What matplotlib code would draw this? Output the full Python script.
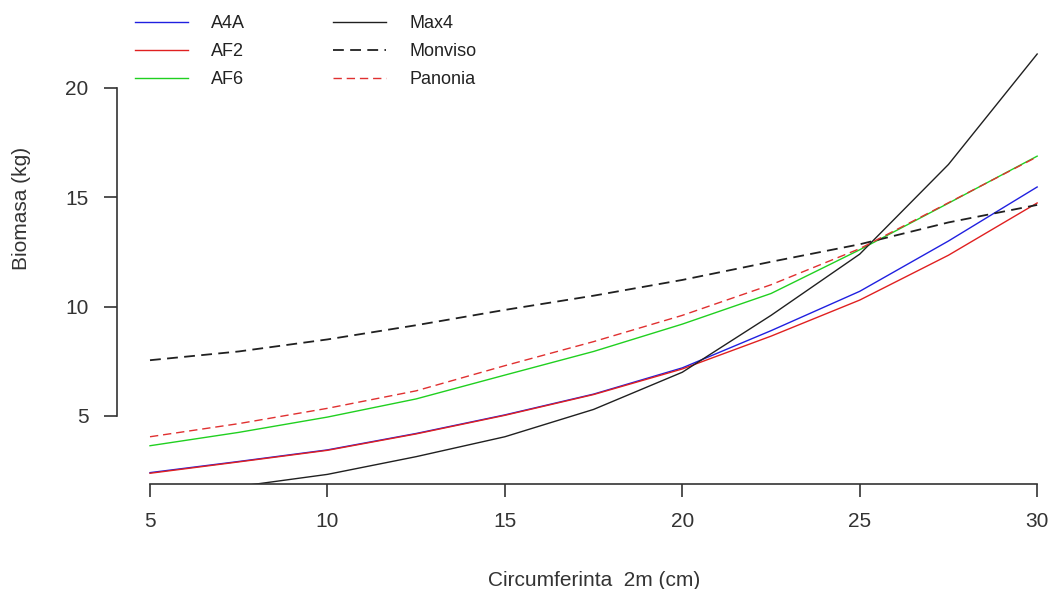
import matplotlib
matplotlib.use("Agg")
import matplotlib.pyplot as plt

# circumference at 2 m (cm)
circ = [5, 7.5, 10, 12.5, 15, 17.5, 20, 22.5, 25, 27.5, 30]

# biomass (kg) per clone
a4a = [2.41, 2.92, 3.45, 4.20, 5.05, 6.00, 7.20, 8.90, 10.70, 13.00, 15.47]
af2 = [2.38, 2.90, 3.43, 4.18, 5.03, 5.98, 7.15, 8.65, 10.30, 12.35, 14.74]
af6 = [3.64, 4.25, 4.95, 5.78, 6.87, 7.95, 9.20, 10.60, 12.60, 14.73, 16.88]
max4 = [1.35, 1.78, 2.33, 3.14, 4.05, 5.30, 7.00, 9.60, 12.40, 16.50, 21.55]
monviso = [7.55, 7.95, 8.50, 9.15, 9.85, 10.50, 11.22, 12.05, 12.85, 13.85, 14.65]
panonia = [4.05, 4.65, 5.35, 6.15, 7.30, 8.40, 9.60, 11.00, 12.65, 14.75, 16.85]

x_ticks = [5, 10, 15, 20, 25, 30]
y_ticks = [5, 10, 15, 20]

plt.rcParams["font.family"] = ["Liberation Sans", "DejaVu Sans"]

W, H = 1051, 589
fig = plt.figure(figsize=(W / 100, H / 100), dpi=100)
ax = fig.add_axes([117 / W, (H - 484) / H, (W - 117) / W, 484 / H])

dash = (0, (6, 3.5))
ax.plot(circ, a4a, color="#2020e0", lw=1.0, label="A4A")
ax.plot(circ, af2, color="#e02020", lw=1.0, label="AF2")
ax.plot(circ, af6, color="#20d020", lw=1.0, label="AF6")
ax.plot(circ, max4, color="#202020", lw=1.0, label="Max4")
ax.plot(circ, monviso, color="#202020", lw=1.3, ls=dash, label="Monviso")
ax.plot(circ, panonia, color="#e03030", lw=1.0, ls=dash, label="Panonia")

ax.set_xlim(4.07, 30.39)
ax.set_ylim(1.89, 24.02)

for s in ["top", "right"]:
    ax.spines[s].set_visible(False)
ax.spines["left"].set_bounds(5, 20)
ax.spines["bottom"].set_bounds(5, 30)
for s in ["left", "bottom"]:
    ax.spines[s].set_color("#333333")
    ax.spines[s].set_linewidth(1.2)

ax.set_xticks(x_ticks)
ax.set_yticks(y_ticks)
ax.tick_params(direction="out", length=9.5, width=1.2, color="#333333",
               labelsize=15, labelcolor="#333333", pad=11)

fig.text(594 / W, 1 - 580 / H, "Circumferinta  2m (cm)", ha="center", va="center",
         fontsize=15, color="#333333")
fig.text(22 / W, 1 - 208 / H, "Biomasa (kg)", ha="center", va="center",
         rotation=90, fontsize=15, color="#333333")

ax.legend(loc="upper left", bbox_to_anchor=(0.003, 1.0), ncol=2, frameon=False,
          fontsize=13, handlelength=2.9, handletextpad=1.3, columnspacing=4.9,
          labelspacing=0.6, borderaxespad=0.45, labelcolor="#222222")

fig.savefig("out.png", dpi=100)
